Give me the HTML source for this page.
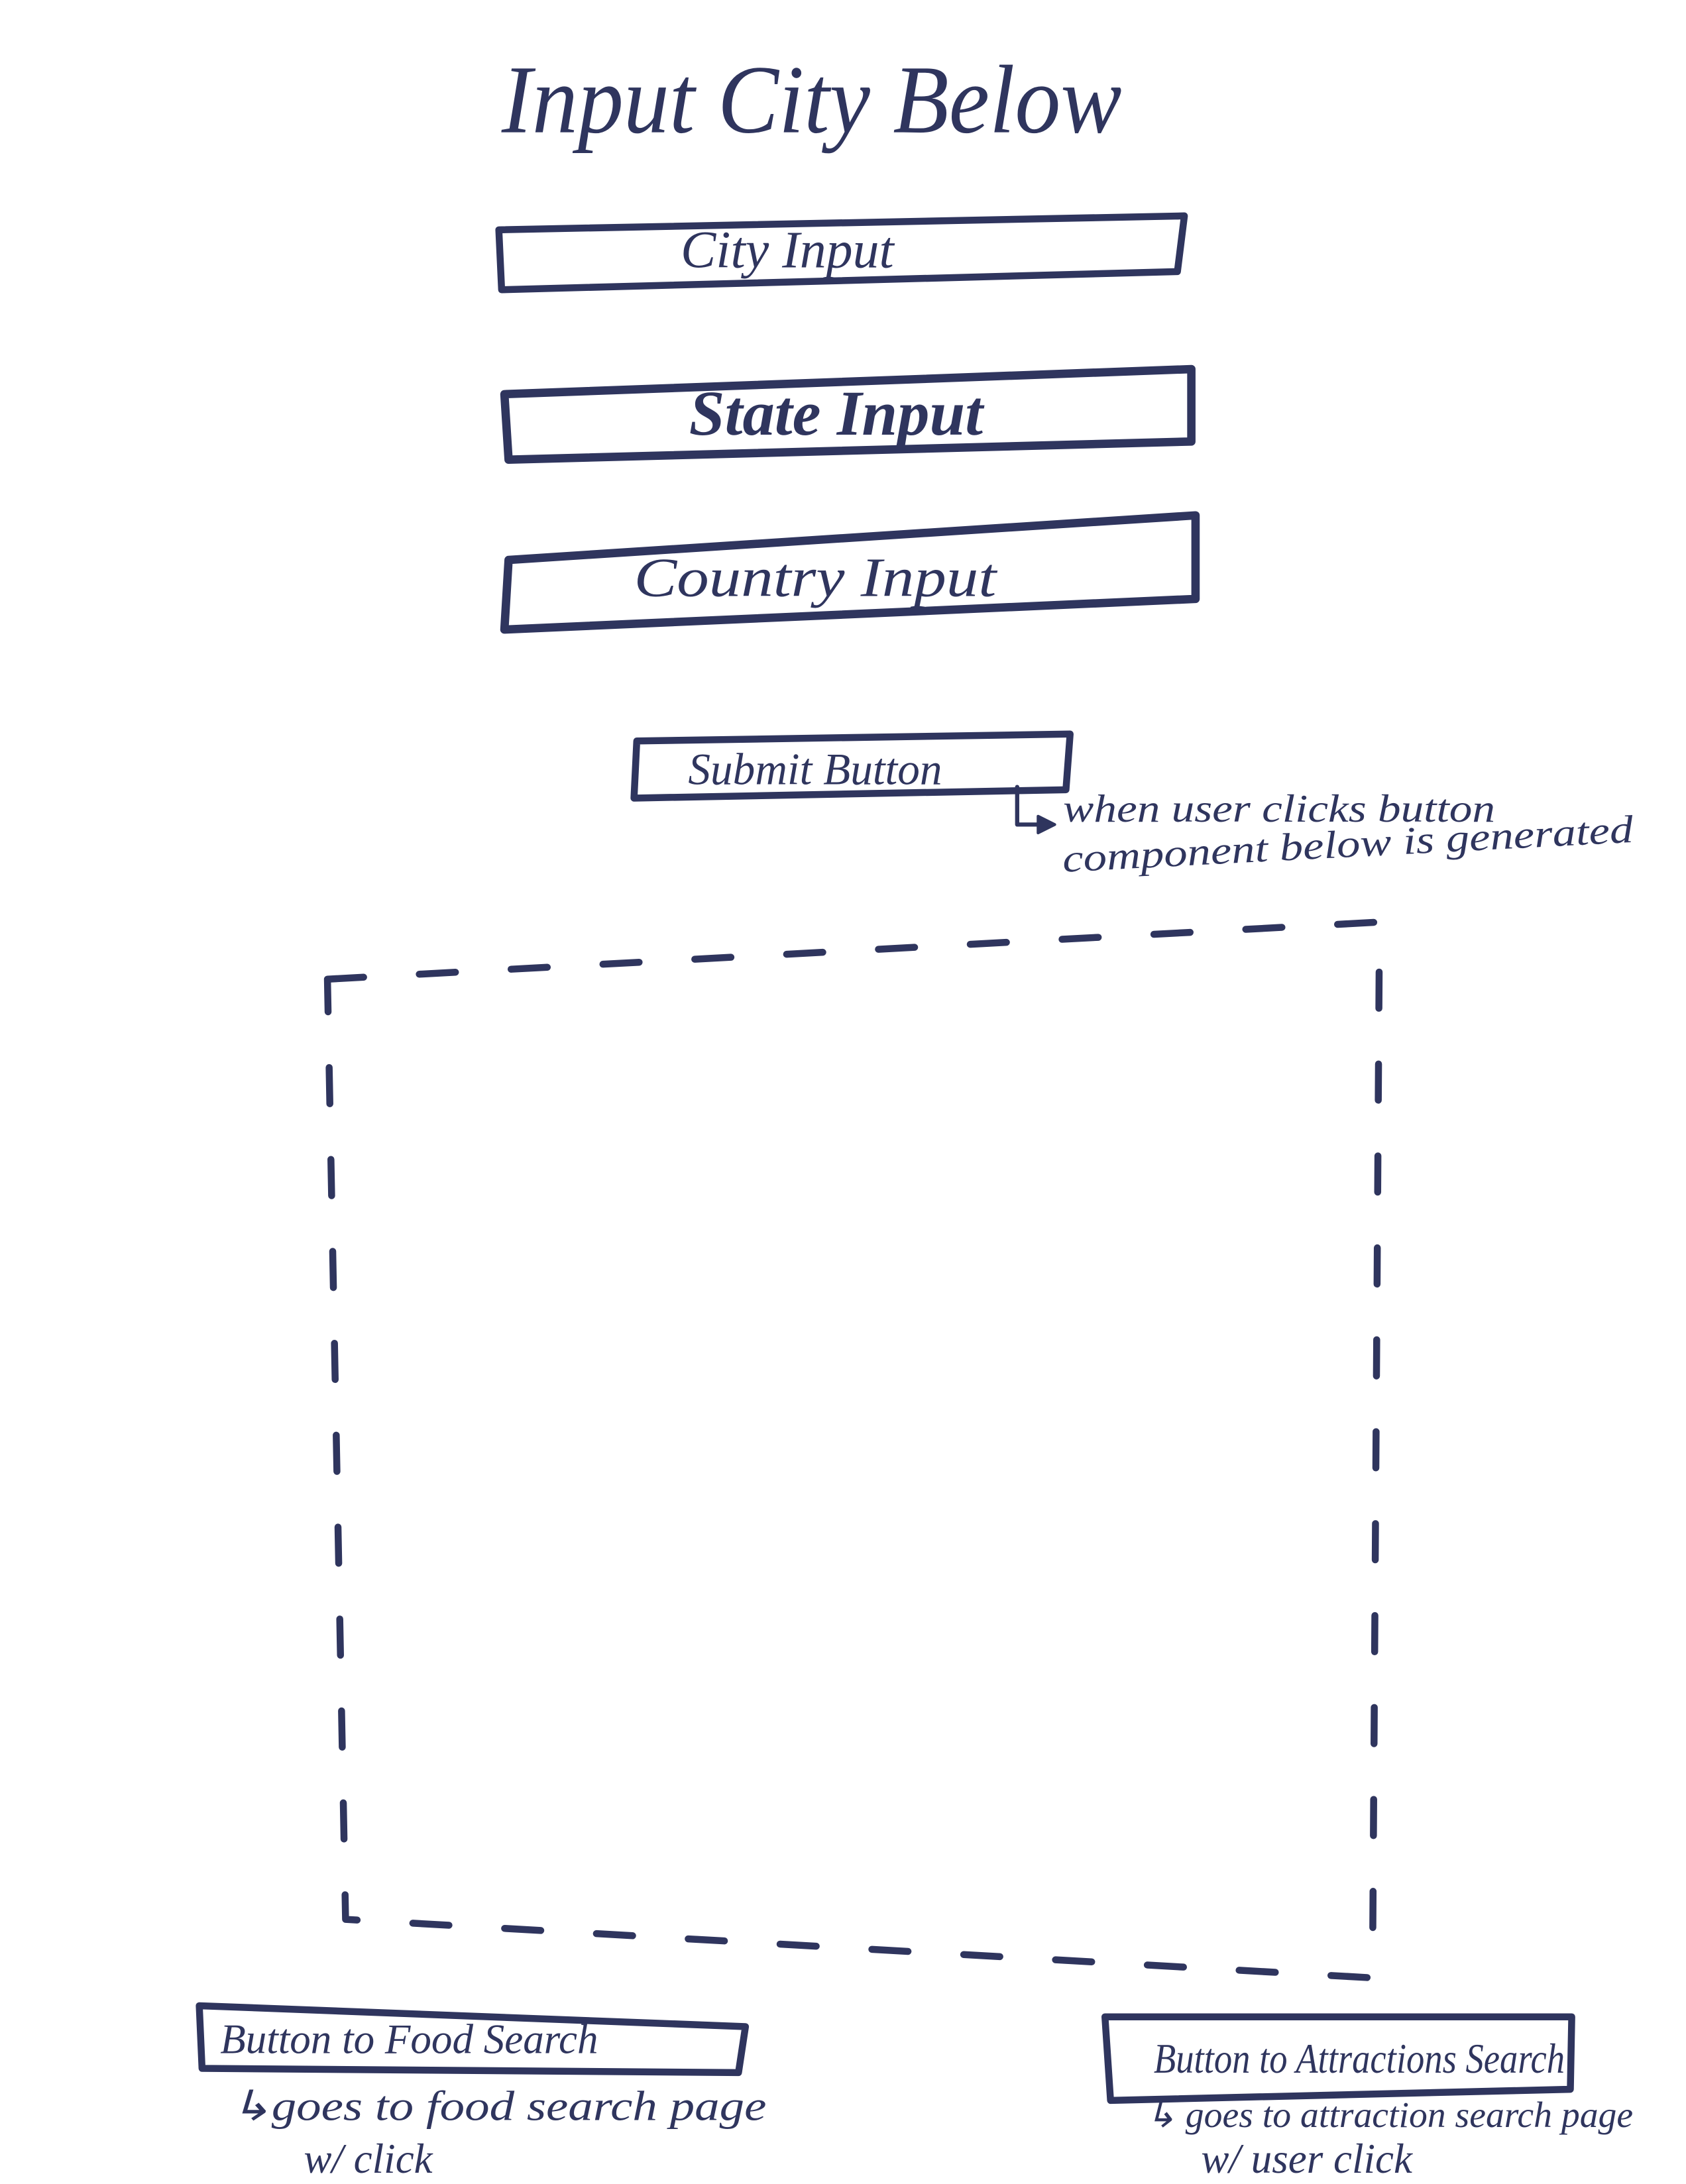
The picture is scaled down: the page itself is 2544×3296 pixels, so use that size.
<!DOCTYPE html>
<html>
<head>
<meta charset="utf-8">
<style>
html,body{margin:0;padding:0;background:#fff;}
svg{display:block;}
text{font-family:"Liberation Serif",serif;font-style:italic;fill:#2f355e;}
</style>
</head>
<body>
<svg width="2544" height="3296" viewBox="0 0 1210 1568" preserveAspectRatio="none" xmlns="http://www.w3.org/2000/svg">
<rect width="1210" height="1568" fill="#fff"/>
<g fill="none" stroke="#2f355e" stroke-linejoin="round" stroke-linecap="round">
  <path d="M358,165 L850,155 L845,195 L360,208 Z" stroke-width="5"/>
  <path d="M362,283 L855,265 L855,317 L365,330 Z" stroke-width="6"/>
  <path d="M365,402 L858,370 L858,430 L362,452 Z" stroke-width="6"/>
  <path d="M457,532 L768,527 L765,567 L455,573 Z" stroke-width="5"/>
  <path d="M143,1440 L535,1455 L530,1488 L145,1485 Z" stroke-width="5"/>
  <path d="M793,1448 L1128,1448 L1127,1500 L797,1508 Z" stroke-width="5"/>
  <path d="M730,565 L730,592 L752,592" stroke-width="3"/>
  <path d="M745,586 L757,592 L745,598 Z" fill="#2f355e" stroke-width="2"/>
  <path d="M235,703 L990,662 L985,1420 L248,1378 Z" stroke-width="5" stroke-dasharray="26 40"/>
</g>
<text x="360" y="95" font-size="70" textLength="445" lengthAdjust="spacingAndGlyphs">Input City Below</text>
<text x="565" y="192" font-size="38" text-anchor="middle">City Input</text>
<text x="600" y="312" font-size="46" font-weight="bold" text-anchor="middle">State Input</text>
<text x="455" y="428" font-size="40" textLength="260" lengthAdjust="spacingAndGlyphs">Country Input</text>
<text x="585" y="563" font-size="32" text-anchor="middle">Submit Button</text>
<text x="763" y="590" font-size="28" textLength="310" lengthAdjust="spacingAndGlyphs">when user clicks button</text>
<text x="763" y="626" font-size="28" transform="rotate(-3 763 626)" textLength="410" lengthAdjust="spacingAndGlyphs">component below is generated</text>
<text x="158" y="1474" font-size="30">Button to Food Search</text>
<text x="165" y="1522" font-size="30" textLength="385" lengthAdjust="spacingAndGlyphs">↳goes to food search page</text>
<text x="218" y="1560" font-size="30">w/ click</text>
<text x="828" y="1488" font-size="30" textLength="295" lengthAdjust="spacingAndGlyphs">Button to Attractions Search</text>
<text x="822" y="1527" font-size="26" textLength="350" lengthAdjust="spacingAndGlyphs">↳ goes to attraction search page</text>
<text x="862" y="1560" font-size="30">w/ user click</text>
</svg>
</body>
</html>
